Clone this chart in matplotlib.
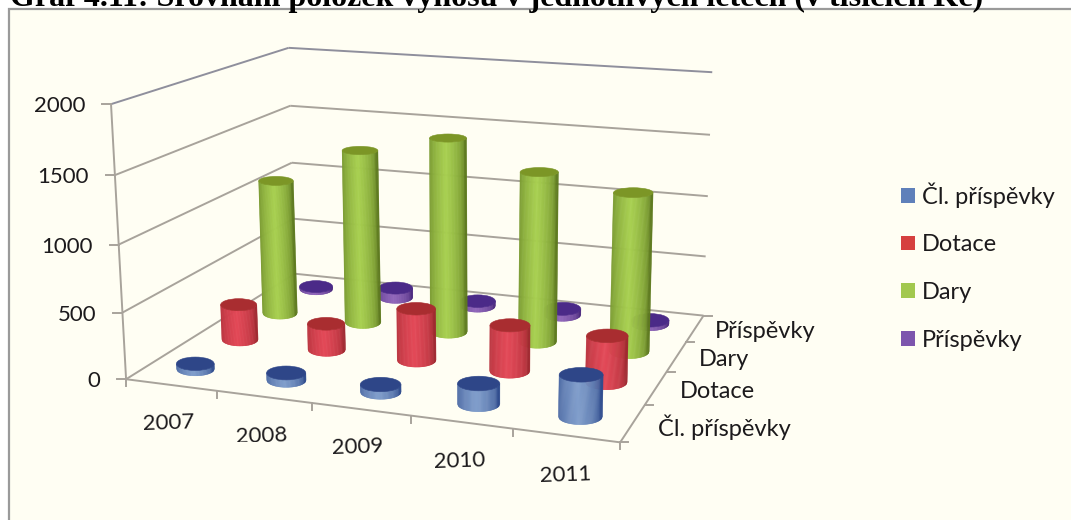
import numpy as np
import matplotlib
matplotlib.use("Agg")
import matplotlib.pyplot as plt
from matplotlib.collections import PolyCollection
from matplotlib.patches import Ellipse, Patch, Rectangle

years = ["2007", "2008", "2009", "2010", "2011"]
series = ["Čl. příspěvky", "Dotace", "Dary", "Příspěvky"]
cl_prispevky = [40, 55, 55, 150, 300]
dotace = [280, 205, 400, 350, 350]
dary = [1100, 1400, 1550, 1340, 1240]
prispevky = [20, 80, 40, 50, 30]
y_ticks = [0, 500, 1000, 1500, 2000]
title = "Graf 4.11: Srovnání položek výnosů v jednotlivých letech (v tisících Kč)"

values = [cl_prispevky, dotace, dary, prispevky]
light = ["#7F9DCB", "#E34756", "#A8D050", "#9066BA"]
dark = ["#2F4C8E", "#A02830", "#5E7A1F", "#4E2C80"]
top_c = ["#2E4688", "#A92D30", "#7C9626", "#4B2A88"]
legend_c = ["#5F80BA", "#D6403F", "#A2C84E", "#7D55AD"]
BG = "#FFFEF3"
GRID = "#A8A39B"
TXT = "#1C1A1C"
FONT = "Lato"

# projective calibration of the 3D chart box: (category, series, value/2000) -> pixel
world = np.array([
    (0, 0, 0), (5, 0, 0), (5, 4, 0), (0, 4, 0), (0, 0, 1), (0, 4, 1), (5, 4, 1),
    (0, 0, .5), (0, 4, .5), (5, 4, .5), (.5, .5, 0), (4.5, .5, 0), (.5, 3.5, 0)], float)
pixel = np.array([
    (125, 378), (621, 443), (703, 316), (294, 274), (113, 104), (287, 47), (713, 72),
    (119, 246), (291, 164), (707, 196), (193, 369), (580, 416), (321, 288)], float)
A, b_ = [], []
for (X, Y, Z), (px, py) in zip(world, pixel):
    A.append([X, Y, Z, 1, 0, 0, 0, 0, -px * X, -px * Y, -px * Z]); b_.append(px)
    A.append([0, 0, 0, 0, X, Y, Z, 1, -py * X, -py * Y, -py * Z]); b_.append(py)
h = np.linalg.lstsq(np.array(A), np.array(b_), rcond=None)[0]
H = np.append(h, 1).reshape(3, 4)


def proj(u, v, val=0.0):
    w = H @ np.array([u, v, val / 2000.0, 1.0])
    return w[:2] / w[2]


fig = plt.figure(figsize=(10.71, 5.20), dpi=100, facecolor="white")
ax = fig.add_axes([0, 0, 1, 1])
ax.set_xlim(0, 1071)
ax.set_ylim(520, 0)
ax.axis("off")

ax.add_patch(Rectangle((9, 9), 1070, 520, fc=BG, ec="#9A9A9A", lw=1.6, zorder=0))
ax.text(10, 6, title, family="Liberation Serif", weight="bold", fontsize=23.0,
        color="black", ha="left", va="baseline", zorder=1)


def seg(a, b, color=GRID, lw=1.4):
    p, q = proj(*a), proj(*b)
    ax.plot([p[0], q[0]], [p[1], q[1]], color=color, lw=lw, solid_capstyle="butt", zorder=1)


for t in y_ticks:
    col = "#8F8F9C" if t == 2000 else GRID
    seg((0, 0, t), (0, 4, t), col)
    seg((0, 4, t), (5, 4, t), col)
    p = proj(0, 0, t)
    ax.plot([p[0] - 9, p[0]], [p[1], p[1]], color=GRID, lw=1.4, zorder=1)
    ax.text(p[0] - 26, p[1] + 2, str(t), family=FONT, fontsize=16, color=TXT,
            ha="right", va="center", zorder=1)
seg((0, 0, 0), (0, 0, 2000))
seg((0, 0, 0), (5, 0, 0))
seg((5, 0, 0), (5, 4, 0))
for i in range(6):
    p = proj(i, 0)
    ax.plot([p[0], p[0]], [p[1], p[1] + 7], color=GRID, lw=1.4, zorder=1)
for j in range(5):
    p = proj(5, j)
    ax.plot([p[0], p[0] + 8], [p[1], p[1]], color=GRID, lw=1.4, zorder=1)

year_pos = [(169, 423), (262, 436), (358, 447), (460, 461), (566, 475)]
for lab, (x, y) in zip(years, year_pos):
    ax.text(x, y, lab, family=FONT, fontsize=16, color=TXT, ha="center", va="center",
            rotation=2, zorder=1)
ax.add_patch(Rectangle((232, 442), 60, 8, fc=BG, ec="none", zorder=1.5))
depth_pos = [(724, 427), (717, 391), (724, 360), (765, 332)]
for lab, (x, y) in zip(series, depth_pos):
    ax.text(x, y, lab, family=FONT, fontsize=17, color=TXT, ha="center", va="center", zorder=1)


def cylinder(u, v, val, c_light, c_dark, c_top, z):
    base = proj(u, v, 0)
    top = proj(u, v, val)
    a = 0.21 * np.linalg.norm(proj(u + .5, v) - proj(u - .5, v))
    b0 = 0.36 * a
    b1 = (0.36 - 0.09 * val / 1000.0) * a
    n = 48
    ts = np.linspace(-1, 1, n + 1)
    polys, cols = [], []
    cl = np.array(matplotlib.colors.to_rgb(c_light))
    cd = np.array(matplotlib.colors.to_rgb(c_dark))
    for t0, t1 in zip(ts[:-1], ts[1:]):
        r0, r1 = np.sqrt(max(0, 1 - t0 ** 2)), np.sqrt(max(0, 1 - t1 ** 2))
        polys.append([(base[0] + a * t0, base[1] + b0 * r0), (base[0] + a * t1, base[1] + b0 * r1),
                      (top[0] + a * t1, top[1] + b1 * r1), (top[0] + a * t0, top[1] + b1 * r0)])
        tm = (t0 + t1) / 2
        f = np.clip(1 - abs(tm + 0.1) / 1.0, 0, 1) ** 0.45
        cols.append(cd + (cl - cd) * f)
    ax.add_collection(PolyCollection(polys, facecolors=cols, edgecolors=cols, linewidths=0.4, zorder=z))
    ax.add_patch(Ellipse(top, 2 * a, 2 * b1, fc=c_top, ec=c_top, lw=0.4, zorder=z + 0.01))


z = 2.0
for j in (3, 2, 1, 0):
    for i in range(5):
        cylinder(i + .5, j + .5, values[j][i], light[j], dark[j], top_c[j], z)
        z += 0.1

handles = [Patch(fc=c, ec="none") for c in legend_c]
ax.legend(handles, series, loc="upper left", bbox_to_anchor=(901 / 1071, 1 - 182 / 520),
          frameon=False, prop={"family": FONT, "size": 17}, handlelength=0.58, handleheight=0.58,
          handletextpad=0.3, labelspacing=1.13, labelcolor=TXT, borderpad=0, borderaxespad=0)

fig.savefig("out.png", dpi=100, facecolor="white")
